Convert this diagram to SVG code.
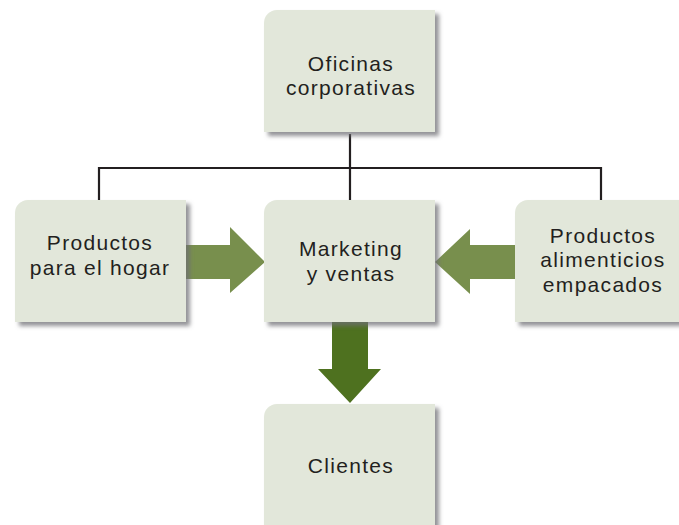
<svg xmlns="http://www.w3.org/2000/svg" width="679" height="525" viewBox="0 0 679 525">
<defs>
<filter id="sh" x="-10%" y="-10%" width="130%" height="130%">
<feDropShadow dx="4" dy="4" stdDeviation="2" flood-color="#6e6e73" flood-opacity="0.75"/>
</filter>
<path id="box" d="M13,0 H171 V122 H0 V13 A13,13 0 0 1 13,0 Z"/>
</defs>
<style>
.b{fill:#e2e7da;filter:url(#sh)}
.t{font-family:"Liberation Sans",Arial,sans-serif;font-size:21px;letter-spacing:1.3px;fill:#231f20;text-anchor:middle}
.c{fill:none;stroke:#231f20;stroke-width:2.2}
.a1{fill:#788f4d}
.a2{fill:#4e711f}
</style>
<rect width="679" height="525" fill="#ffffff"/>
<g id="connectors">
<path class="c" d="M350,134 V168 M99,200 V168 H601 V200 M350,168 V200"/>
<path class="a1" d="M185,245 H230 V227 L265,262 L230,293 V279 H185 Z"/>
<path class="a1" d="M515,245 H470 V229 L435,262 L470,294 V279 H515 Z"/>
<path class="a2" d="M332,322 H368 V369 H381 L350,403 L318,369 H332 Z"/>
</g>
<g id="n-oficinas">
<use href="#box" class="b" x="264" y="10"/>
<text class="t" x="351" y="71">Oficinas</text>
<text class="t" x="351" y="95">corporativas</text>
</g>
<g id="n-hogar">
<use href="#box" class="b" x="15" y="200"/>
<text class="t" x="100" y="250">Productos</text>
<text class="t" x="100" y="275">para el hogar</text>
</g>
<g id="n-marketing">
<use href="#box" class="b" x="264" y="200"/>
<text class="t" x="351" y="256">Marketing</text>
<text class="t" x="351" y="281">y ventas</text>
</g>
<g id="n-alimenticios">
<use href="#box" class="b" x="515" y="200"/>
<text class="t" x="603" y="243">Productos</text>
<text class="t" x="603" y="267">alimenticios</text>
<text class="t" x="603" y="292">empacados</text>
</g>
<g id="n-clientes">
<use href="#box" class="b" x="264" y="404"/>
<text class="t" x="351" y="473">Clientes</text>
</g>
</svg>
